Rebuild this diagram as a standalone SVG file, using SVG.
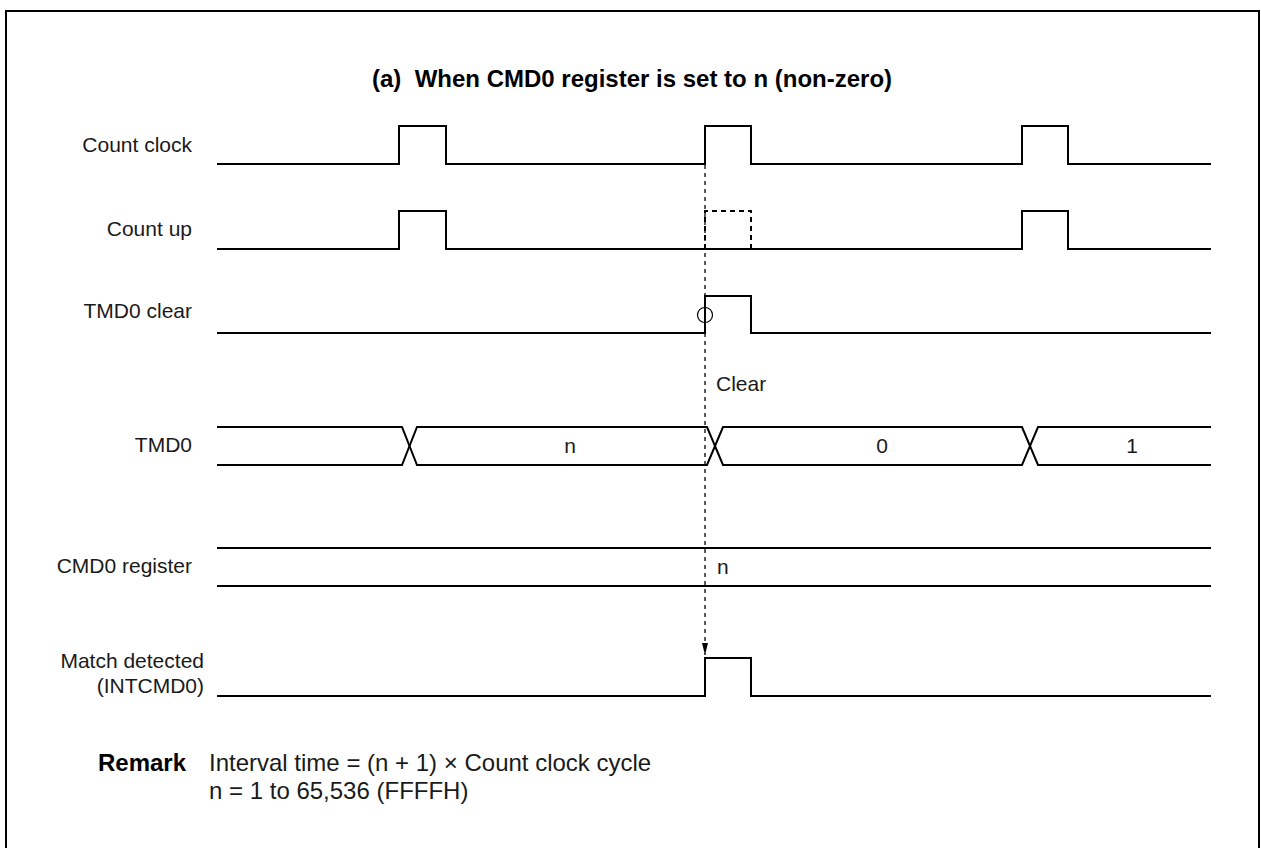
<svg xmlns="http://www.w3.org/2000/svg" width="1261" height="848" viewBox="0 0 1261 848">
<style>
.w{fill:none;stroke:#000;stroke-width:2;stroke-linejoin:miter}
.d{fill:none;stroke:#000;stroke-width:2;stroke-dasharray:5 4}
.t{font-family:"Liberation Sans",Arial,sans-serif;font-size:21px;fill:#1a1a1a}
.r{text-anchor:end}
.c{text-anchor:middle}
.b{font-weight:bold;fill:#000}
.ttl{font-size:24px}
.rm{font-size:24px}
</style>
<defs>
<marker id="ah" viewBox="0 0 12 6" refX="12" refY="3" markerWidth="12" markerHeight="6" markerUnits="userSpaceOnUse" orient="auto">
<path d="M0,0 L12,3 L0,6 Z" fill="#000"/>
</marker>
</defs>
<rect width="1261" height="848" fill="#fff"/>
<path d="M6,850 V11 H1259 V850" fill="none" stroke="#000" stroke-width="2"/>
<text class="t b ttl" x="372" y="87" xml:space="preserve">(a)  When CMD0 register is set to n (non-zero)</text>

<g id="count-clock">
<text class="t r" x="192" y="152">Count clock</text>
<path class="w" d="M217,164 H399 V126 H446 V164 H705 V126 H751 V164 H1022 V126 H1068 V164 H1211"/>
</g>
<g id="count-up">
<text class="t r" x="192" y="236">Count up</text>
<path class="w" d="M217,249 H399 V211 H446 V249 H1022 V211 H1068 V249 H1211"/>
<path class="d" d="M705,249 V211 H751 V249"/>
</g>
<g id="tmd0-clear">
<text class="t r" x="192" y="318">TMD0 clear</text>
<path class="w" d="M217,333 H705 V296 H751 V333 H1211"/>
<circle cx="705" cy="315" r="7.5" fill="none" stroke="#000" stroke-width="1.2"/>
</g>
<g id="tmd0">
<text class="t r" x="192" y="452">TMD0</text>
<path class="w" d="M217,427 H402 L417,465 H707 L723,427 H1022 L1038,465 H1211"/>
<path class="w" d="M217,465 H402 L417,427 H707 L723,465 H1022 L1038,427 H1211"/>
<text class="t c" x="570" y="453">n</text>
<text class="t c" x="882" y="453">0</text>
<text class="t c" x="1132" y="453">1</text>
</g>
<g id="cmd0-register">
<text class="t r" x="192" y="573">CMD0 register</text>
<path class="w" d="M217,548 H1211 M217,586 H1211"/>
<text class="t" x="717" y="574">n</text>
</g>
<g id="match-detected">
<text class="t r" x="204" y="668">Match detected</text>
<text class="t r" x="204" y="693">(INTCMD0)</text>
<path class="w" d="M217,696 H705 V658 H751 V696 H1211"/>
</g>

<g id="connectors">
<path d="M705,165 V655" fill="none" stroke="#000" stroke-width="1.3" stroke-dasharray="4 4" marker-end="url(#ah)"/>
<text class="t" x="716" y="391">Clear</text>
</g>

<g id="remark">
<text class="t b rm" x="98" y="771">Remark</text>
<text class="t rm" x="209" y="771">Interval time = (n + 1) × Count clock cycle</text>
<text class="t rm" x="209" y="799">n = 1 to 65,536 (FFFFH)</text>
</g>
</svg>
